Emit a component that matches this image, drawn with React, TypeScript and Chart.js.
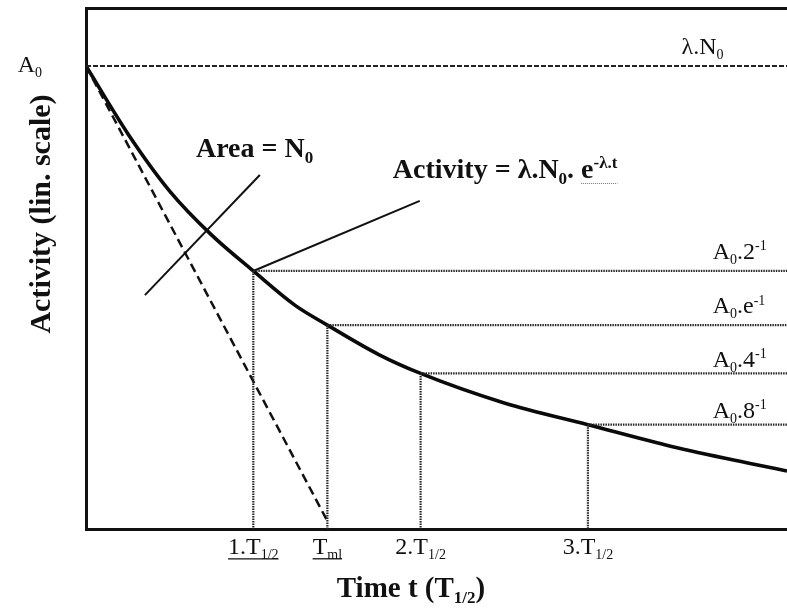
import React, { useEffect, useRef } from "react";
import { Chart, registerables } from "chart.js";

Chart.register(...registerables);

// Time is measured in half-lives (T1/2); activity as a fraction of A0.
const T_ML = 1.4427; // mean life expressed in half-lives

// Decay curve
const timeT = [0, 0.25, 0.5, 0.75, 1, 1.25, T_ML, 1.75, 2, 2.5, 3, 3.5, 4, 4.19];
const activity = [1, 0.835, 0.695, 0.588, 0.5, 0.416, 0.3679, 0.296, 0.25, 0.178, 0.125, 0.072, 0.028, 0.012];

// Marked levels on the curve
const levelT = [1, T_ML, 2, 3];
const levelA = [0.5, 0.3679, 0.25, 0.125];
const levelLabels = ["A_{0}.2^{-1}", "A_{0}.e^{-1}", "A_{0}.4^{-1}", "A_{0}.8^{-1}"];

// Time axis ticks
const xTickValues = [1, T_ML, 2, 3];
const xTickLabels = ["1.T_{1/2}", "T_{ml}", "2.T_{1/2}", "3.T_{1/2}"];
const xTickUnderlined = [true, true, false, false];

// Initial tangent, running down to the time axis at the mean life
const tangentT = [0, T_ML];
const tangentA = [1, -0.11];

// Pointer strokes for the two notes
const areaPointerT = [0.352, 1.039];
const areaPointerA = [0.441, 0.734];
const activityPointerT = [1, 1.995];
const activityPointerA = [0.5, 0.671];

const X_MIN = 0;
const X_MAX = 4.19;
const Y_MIN = -0.1295;
const Y_MAX = 1.1415;

const INK = "#111111";
const DOT = "#262626";
const SERIF = '"Liberation Serif", "Times New Roman", Times, serif';

type Seg = { t: string; sub?: boolean; sup?: boolean };

function parseRich(s: string): Seg[] {
  const out: Seg[] = [];
  let buf = "";
  let i = 0;
  while (i < s.length) {
    const c = s[i];
    if ((c === "_" || c === "^") && s[i + 1] === "{") {
      if (buf) {
        out.push({ t: buf });
        buf = "";
      }
      const end = s.indexOf("}", i + 2);
      out.push({ t: s.slice(i + 2, end), sub: c === "_", sup: c === "^" });
      i = end + 1;
    } else {
      buf += c;
      i++;
    }
  }
  if (buf) out.push({ t: buf });
  return out;
}

type RichOpts = {
  size: number;
  bold?: boolean;
  align?: "left" | "center" | "right";
  underline?: "solid" | "dotted";
};

function fontFor(seg: Seg, o: RichOpts) {
  const sz = seg.sub || seg.sup ? Math.round(o.size * 0.6) : o.size;
  return `${o.bold ? "bold " : ""}${sz}px ${SERIF}`;
}

function measureRich(ctx: CanvasRenderingContext2D, segs: Seg[], o: RichOpts) {
  return segs.map((s) => {
    ctx.font = fontFor(s, o);
    return ctx.measureText(s.t).width;
  });
}

// Draws text with sub/superscripts; (x, y) is the baseline anchor. Returns the right edge.
function drawRich(ctx: CanvasRenderingContext2D, src: string, x: number, y: number, o: RichOpts) {
  const segs = parseRich(src);
  const widths = measureRich(ctx, segs, o);
  const total = widths.reduce((a, b) => a + b, 0);
  let cx = o.align === "center" ? x - total / 2 : o.align === "right" ? x - total : x;
  const start = cx;
  ctx.textAlign = "left";
  ctx.textBaseline = "alphabetic";
  segs.forEach((s, i) => {
    ctx.font = fontFor(s, o);
    const dy = s.sub ? o.size * 0.22 : s.sup ? -o.size * 0.36 : 0;
    ctx.fillText(s.t, cx, y + dy);
    cx += widths[i];
  });
  if (o.underline) {
    ctx.save();
    ctx.strokeStyle = o.underline === "dotted" ? "#777" : INK;
    ctx.lineWidth = o.underline === "dotted" ? 1 : 1.3;
    if (o.underline === "dotted") ctx.setLineDash([1, 1]);
    ctx.beginPath();
    const uy = y + o.size * 0.2;
    ctx.moveTo(start, uy);
    ctx.lineTo(cx, uy);
    ctx.stroke();
    ctx.restore();
  }
  return cx;
}

const pts = (ts: number[], as: number[]) => ts.map((t, i) => ({ x: t, y: as[i] }));

const notesPlugin = {
  id: "decayNotes",
  afterDatasetsDraw(chart: any) {
    const { ctx, chartArea } = chart;
    const xs = chart.scales.x;
    const ys = chart.scales.y;
    const px = (t: number) => xs.getPixelForValue(t);
    const py = (a: number) => ys.getPixelForValue(a);
    ctx.save();
    ctx.fillStyle = INK;

    // Level on the activity axis
    drawRich(ctx, "A_{0}", chartArea.left - 44, py(1) + 6, { size: 24, align: "right" });
    // Initial decay rate over the top dashed line
    drawRich(ctx, "λ.N_{0}", px(3.56), py(1.03), { size: 24 });

    // Notes
    drawRich(ctx, "Area = N_{0}", px(0.657), py(0.778), { size: 28, bold: true });
    const ex = drawRich(ctx, "Activity = λ.N_{0}. ", px(1.834), py(0.727), { size: 28, bold: true });
    drawRich(ctx, "e^{-λ.t}", ex, py(0.727), { size: 28, bold: true, underline: "dotted" });

    // Level labels at the right
    const labelBase = [0.529, 0.397, 0.266, 0.141];
    levelLabels.forEach((lab, i) => {
      drawRich(ctx, lab, px(3.746), py(labelBase[i]), { size: 24 });
    });

    // Time axis tick labels
    xTickValues.forEach((v, i) => {
      drawRich(ctx, xTickLabels[i], px(v), chartArea.bottom + 25, {
        size: 24,
        align: "center",
        underline: xTickUnderlined[i] ? "solid" : undefined,
      });
    });

    // Axis titles
    drawRich(ctx, "Time t (T_{1/2})", chartArea.left + 325, chartArea.bottom + 68, {
      size: 29,
      bold: true,
      align: "center",
    });
    ctx.save();
    ctx.translate(chartArea.left - 36, 214);
    ctx.rotate(-Math.PI / 2);
    drawRich(ctx, "Activity (lin. scale)", 0, 0, { size: 30, bold: true, align: "center" });
    ctx.restore();

    ctx.restore();
  },
};

const lineDefaults = {
  showLine: true,
  pointRadius: 0,
  pointHoverRadius: 0,
  fill: false,
};

export default function App() {
  const ref = useRef<HTMLCanvasElement>(null);

  useEffect(() => {
    const canvas = ref.current;
    if (!canvas) return;

    const datasets: any[] = [
      {
        ...lineDefaults,
        label: "A0",
        data: pts([X_MIN, X_MAX], [1, 1]),
        borderColor: "#222",
        borderWidth: 2,
        borderDash: [5, 2],
      },
      ...levelT.map((t, i) => ({
        ...lineDefaults,
        label: `level ${i}`,
        data: pts([t, X_MAX], [levelA[i], levelA[i]]),
        borderColor: DOT,
        borderWidth: 2.2,
        borderDash: [1.5, 1],
      })),
      ...levelT.map((t, i) => ({
        ...lineDefaults,
        label: `drop ${i}`,
        data: pts([t, t], [levelA[i], Y_MIN]),
        borderColor: DOT,
        borderWidth: 2.2,
        borderDash: [1.5, 1],
      })),
      {
        ...lineDefaults,
        label: "tangent",
        data: pts(tangentT, tangentA),
        borderColor: INK,
        borderWidth: 2.5,
        borderDash: [9, 5],
      },
      {
        ...lineDefaults,
        label: "area pointer",
        data: pts(areaPointerT, areaPointerA),
        borderColor: INK,
        borderWidth: 2,
      },
      {
        ...lineDefaults,
        label: "activity pointer",
        data: pts(activityPointerT, activityPointerA),
        borderColor: INK,
        borderWidth: 2,
      },
      {
        ...lineDefaults,
        label: "activity",
        data: pts(timeT, activity),
        borderColor: "#0a0a0a",
        borderWidth: 3.6,
        cubicInterpolationMode: "monotone",
      },
    ];

    const hiddenAxis = {
      grid: { display: false, drawTicks: false },
      ticks: { display: false },
      border: { display: true, width: 3, color: INK },
    };

    const chart = new Chart(canvas, {
      type: "scatter",
      data: { datasets },
      options: {
        animation: false,
        responsive: false,
        events: [],
        layout: { padding: { left: 86, top: 8, right: 0, bottom: 81 } },
        plugins: { legend: { display: false }, tooltip: { enabled: false } },
        scales: {
          x: { type: "linear", position: "bottom", min: X_MIN, max: X_MAX, ...hiddenAxis },
          xTop: { type: "linear", axis: "x", position: "top", min: X_MIN, max: X_MAX, ...hiddenAxis },
          y: { type: "linear", position: "left", min: Y_MIN, max: Y_MAX, ...hiddenAxis },
        },
      },
      plugins: [notesPlugin],
    } as any);

    return () => chart.destroy();
  }, []);

  return (
    <div style={{ position: "fixed", left: 0, top: 0, width: 787, height: 610, background: "#fff" }}>
      <canvas ref={ref} width={787} height={610} style={{ display: "block", width: 787, height: 610 }} />
    </div>
  );
}
